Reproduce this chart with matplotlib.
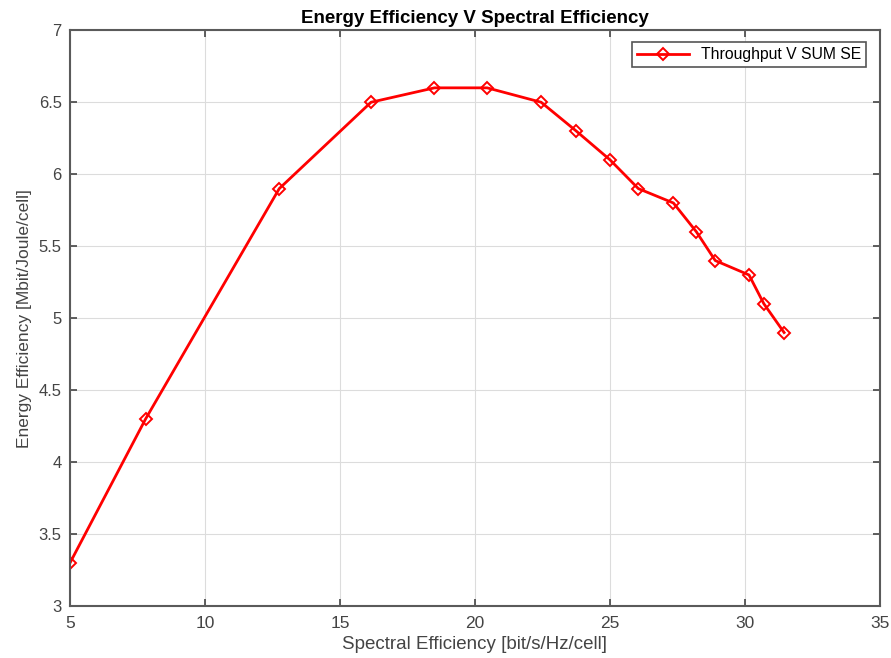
import matplotlib
matplotlib.use('Agg')
import matplotlib.pyplot as plt

plt.rcParams['font.family'] = ['Liberation Sans', 'DejaVu Sans']

# data
se = [5.0, 7.8, 12.75, 16.15, 18.5, 20.45, 22.45, 23.75, 25.0, 26.05, 27.35, 28.2, 28.9, 30.15, 30.7, 31.45]
ee = [3.3, 4.3, 5.9, 6.5, 6.6, 6.6, 6.5, 6.3, 6.1, 5.9, 5.8, 5.6, 5.4, 5.3, 5.1, 4.9]

fig = plt.figure(figsize=(8.91, 6.58), dpi=100)
ax = fig.add_axes([0.0786, 0.079, 0.909, 0.875])

ax.plot(se, ee, color='red', linewidth=2, marker='D', markersize=6.5,
        markerfacecolor='none', markeredgecolor='red', markeredgewidth=1.4,
        label='Throughput V SUM SE')

ax.set_xlim(5, 35)
ax.set_ylim(3, 7)
ax.set_xticks(range(5, 36, 5))
ax.set_yticks([3, 3.5, 4, 4.5, 5, 5.5, 6, 6.5, 7])
ax.set_yticklabels(['3', '3.5', '4', '4.5', '5', '5.5', '6', '6.5', '7'])

ax.grid(True, color='#dcdcdc', linewidth=0.8)
ax.set_axisbelow(True)
for sp in ax.spines.values():
    sp.set_color('#5a5a5a')
    sp.set_linewidth(1.5)
ax.tick_params(direction='in', top=True, right=True, colors='#444444',
               labelsize=12.5, length=5, width=1.2)
ax.tick_params(axis='x', pad=7)
ax.tick_params(axis='y', pad=6, labelsize=12)

ax.set_xlabel('Spectral Efficiency [bit/s/Hz/cell]', fontsize=13.5, color='#444444', labelpad=4)
ax.set_ylabel('Energy Efficiency [Mbit/Joule/cell]', fontsize=12.5, color='#444444', labelpad=5)
ax.set_title('Energy Efficiency V Spectral Efficiency', fontsize=13.5, fontweight='bold', pad=5)

leg = ax.legend(loc='upper right', fontsize=11.3, fancybox=False, framealpha=1,
                edgecolor='#555555', borderpad=0.3, handlelength=3.3,
                borderaxespad=0, bbox_to_anchor=(0.983, 0.979))
leg.get_frame().set_linewidth(1.2)

fig.savefig('out.png', dpi=100)
